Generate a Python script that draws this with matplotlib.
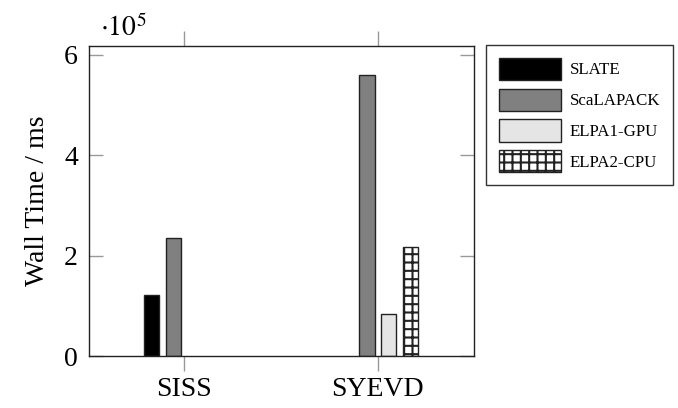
import matplotlib
matplotlib.use("Agg")
import numpy as np
import matplotlib.pyplot as plt
from matplotlib.ticker import FuncFormatter

plt.rcParams['font.family'] = ['Liberation Serif', 'DejaVu Serif']
plt.rcParams['mathtext.fontset'] = 'stix'
plt.rcParams['hatch.linewidth'] = 1.5

# wall time in ms per solver
categories = ["SISS", "SYEVD"]
series = ["SLATE", "ScaLAPACK", "ELPA1-GPU", "ELPA2-CPU"]
slate = [1.21e5, 0]
scalapack = [2.35e5, 5.6e5]
elpa1_gpu = [0, 0.84e5]
elpa2_cpu = [0, 2.16e5]
values = [slate, scalapack, elpa1_gpu, elpa2_cpu]

colors = ["black", "#808080", "#e5e5e5", "white"]
hatches = [None, None, None, "++"]

fig = plt.figure(figsize=(6.78, 4.08), dpi=100)
ax = fig.add_axes([89/678, 1-356/408, 385/678, 310/408])

x = np.arange(len(categories))
step = 0.1124
width = 0.080
for i, (name, vals) in enumerate(zip(series, values)):
    off = (i - 1.5) * step
    keep = [j for j, v in enumerate(vals) if v > 0]   # skip missing runs
    ax.bar(x[keep] + off, np.array(vals)[keep], width, color=colors[i],
           edgecolor="#222222", linewidth=1, hatch=hatches[i], label=name)

ax.set_xlim(-0.492, 1.497)
ax.set_ylim(0, 6.17e5)
ax.set_xticks(x)
ax.set_xticklabels(categories)
ax.set_yticks([0, 2e5, 4e5, 6e5])
ax.yaxis.set_major_formatter(FuncFormatter(lambda v, p: f"{v/1e5:g}"))

ax.tick_params(axis='x', direction='out', top=True, length=11, width=1,
               color="#999999", labelsize=20, pad=4)
ax.tick_params(axis='y', direction='in', right=True, length=10, width=1,
               color="#999999", labelsize=20, pad=8)
for s in ax.spines.values():
    s.set_linewidth(1)
    s.set_color("#222222")

ax.set_ylabel("Wall Time / ms", fontsize=20, labelpad=10)
fig.text(100/678, 1-36/408, r"$\cdot 10^5$", fontsize=20, va='baseline', ha='left')

leg = fig.legend(loc='upper left', bbox_to_anchor=(486/678, 1-45/408),
                 fontsize=12.2, handlelength=3.7, handleheight=1.65,
                 handletextpad=0.48, labelspacing=0.5, borderpad=0.75,
                 borderaxespad=0, fancybox=False, frameon=True)
leg.get_frame().set_edgecolor("black")
leg.get_frame().set_linewidth(1)

fig.savefig("out.png", dpi=100)
